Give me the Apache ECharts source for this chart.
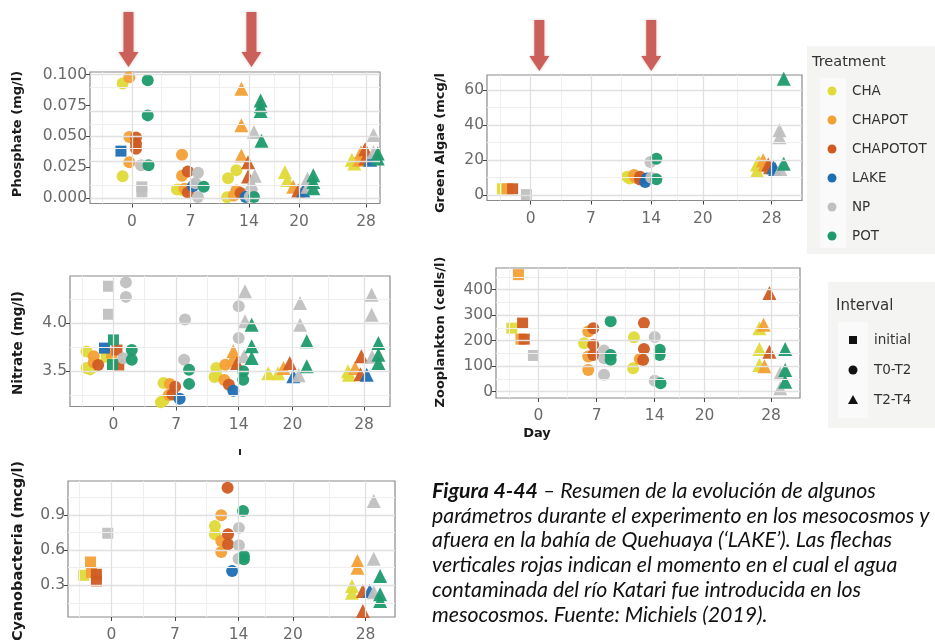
<!DOCTYPE html>
<html><head><meta charset="utf-8">
<script src="https://cdn.jsdelivr.net/npm/echarts@6/dist/echarts.min.js"></script>
<style>html,body{margin:0;padding:0;background:#fff;}#c{width:935px;height:640px;}</style>
</head><body><div id="c"></div>
<script>
// ---------------- DATA ----------------
const treatments = ['CHA', 'CHAPOT', 'CHAPOTOT', 'LAKE', 'NP', 'POT'];
const intervals = ['initial', 'T0-T2', 'T2-T4'];
const dayTicks = [0, 7, 14, 20, 28];
const dayMinor = [-3.5, 3.5, 10.5, 17, 24];

const phosphateTicks = [0, 0.025, 0.05, 0.075, 0.1];
const phosphateMinor = [0.0125, 0.0375, 0.0625, 0.0875];
const algaeTicks = [0, 20, 40, 60];
const algaeMinor = [10, 30, 50];
const nitrateTicks = [3.5, 4.0];
const nitrateMinor = [3.25, 3.75, 4.25];
const zooTicks = [0, 100, 200, 300, 400];
const zooMinor = [50, 150, 250, 350, 450];
const cyanoTicks = [0.3, 0.6, 0.9];
const cyanoMinor = [0.15, 0.45, 0.75, 1.05];

// rows: [treatment, interval, day (dodged), value]
const phosphate = [
  ['CHA','T0-T2',-1.1,0.0928],['CHAPOT','T0-T2',-0.3,0.098],['POT','T0-T2',1.9,0.0955],['POT','T0-T2',1.9,0.067],
  ['CHAPOT','T0-T2',-0.3,0.0495],['CHAPOTOT','T0-T2',0.5,0.049],['CHAPOTOT','T0-T2',0.5,0.044],['CHAPOTOT','T0-T2',0.5,0.040],
  ['LAKE','initial',-1.3,0.038],['CHAPOT','T0-T2',-0.3,0.029],['NP','T0-T2',1.1,0.0265],['POT','T0-T2',2.0,0.0265],
  ['CHA','T0-T2',-1.1,0.0176],['NP','initial',1.2,0.009],['NP','initial',1.2,0.005],
  ['CHAPOT','T0-T2',6.0,0.035],['CHAPOT','T0-T2',6.0,0.018],['CHAPOTOT','T0-T2',6.7,0.0215],['NP','T0-T2',7.9,0.0205],
  ['CHA','T0-T2',5.4,0.0068],['CHA','T0-T2',6.0,0.0065],['CHAPOT','T0-T2',6.3,0.0075],['CHAPOTOT','T0-T2',6.7,0.0045],
  ['LAKE','T0-T2',7.3,0.0095],['NP','T0-T2',7.6,0.012],['POT','T0-T2',8.6,0.009],['NP','T0-T2',7.9,0.0008],
  ['CHAPOT','T2-T4',13.1,0.0887],['POT','T2-T4',15.4,0.079],['POT','T2-T4',15.4,0.0745],['POT','T2-T4',15.4,0.0705],
  ['CHAPOT','T2-T4',13.1,0.059],['NP','T2-T4',14.6,0.0535],['POT','T2-T4',15.5,0.0465],['CHAPOT','T2-T4',13.1,0.0345],
  ['CHAPOTOT','T2-T4',13.9,0.029],['CHA','T0-T2',12.5,0.0225],['CHA','T0-T2',11.5,0.016],['CHAPOTOT','T2-T4',13.9,0.0175],
  ['NP','T2-T4',14.7,0.018],['NP','T2-T4',14.3,0.012],['NP','T2-T4',14.4,0.008],['CHAPOT','T0-T2',12.5,0.006],
  ['CHAPOTOT','T0-T2',13.0,0.004],['CHA','T0-T2',11.4,0.0005],['CHAPOT','T0-T2',12.2,0.002],['LAKE','T0-T2',13.6,0.0008],
  ['POT','T0-T2',14.6,0.0008],['NP','T0-T2',14.1,0.001],
  ['CHA','T2-T4',18.3,0.021],['CHA','T2-T4',18.6,0.0145],['CHAPOT','T2-T4',19.3,0.009],['CHAPOTOT','T2-T4',19.9,0.006],
  ['LAKE','T2-T4',20.5,0.006],['NP','T2-T4',21.0,0.0155],['NP','T2-T4',21.0,0.009],['POT','T2-T4',21.7,0.0185],
  ['POT','T2-T4',21.7,0.013],['POT','T2-T4',21.7,0.0078],
  ['CHA','T2-T4',26.3,0.031],['CHA','T2-T4',26.6,0.028],['CHAPOT','T2-T4',27.4,0.037],['CHAPOT','T2-T4',27.2,0.031],
  ['CHAPOTOT','T2-T4',27.9,0.0395],['CHAPOTOT','T2-T4',27.9,0.032],['LAKE','T2-T4',28.5,0.031],['NP','T2-T4',28.9,0.051],
  ['NP','T2-T4',28.9,0.037],['POT','T2-T4',29.4,0.036],['POT','T2-T4',29.4,0.032]
];

const greenAlgae = [
  ['CHA','initial',-3.3,3.7],['CHAPOT','initial',-2.7,3.7],['CHAPOTOT','initial',-2.1,3.7],['NP','initial',-0.5,0.4],
  ['CHA','T0-T2',11.2,10.5],['CHA','T0-T2',11.5,9.5],['CHAPOT','T0-T2',12.0,11.5],['CHAPOT','T0-T2',12.2,10.0],
  ['CHAPOTOT','T0-T2',12.7,9.0],['CHAPOTOT','T0-T2',12.7,10.5],['LAKE','T0-T2',13.3,7.5],['LAKE','T0-T2',13.5,9.5],
  ['NP','T0-T2',13.9,18.9],['NP','T0-T2',14.0,10.0],['POT','T0-T2',14.6,20.8],['POT','T0-T2',14.6,9.1],
  ['CHA','T2-T4',26.3,14.0],['CHA','T2-T4',26.3,17.5],['CHA','T2-T4',26.5,19.0],['CHAPOT','T2-T4',27.0,19.9],
  ['CHAPOT','T2-T4',27.2,17.5],['CHAPOTOT','T2-T4',27.6,17.5],['CHAPOTOT','T2-T4',27.8,16.0],['LAKE','T2-T4',28.2,16.0],
  ['LAKE','T2-T4',28.4,15.0],['NP','T2-T4',28.9,37.0],['NP','T2-T4',28.9,33.0],['NP','T2-T4',29.0,15.0],
  ['POT','T2-T4',29.4,18.0],['POT','T2-T4',29.4,66.3]
];

const nitrate = [
  ['NP','initial',-0.55,4.38],['NP','initial',-0.55,4.09],['NP','T0-T2',1.4,4.42],['NP','T0-T2',1.4,4.27],
  ['CHA','T0-T2',-3.0,3.705],['CHA','T0-T2',-3.0,3.535],['CHA','T0-T2',-2.6,3.52],['CHAPOT','T0-T2',-2.2,3.655],
  ['CHAPOT','T0-T2',-2.2,3.59],['CHAPOTOT','T0-T2',-1.7,3.565],['LAKE','initial',-1.0,3.74],['CHA','initial',-0.8,3.645],
  ['CHAPOT','initial',-0.2,3.69],['POT','initial',0.0,3.825],['CHAPOTOT','initial',0.4,3.72],['POT','initial',-0.1,3.57],
  ['CHAPOTOT','initial',0.6,3.565],['NP','T0-T2',1.1,3.635],['POT','T0-T2',2.05,3.72],['POT','T0-T2',2.05,3.62],
  ['NP','T0-T2',8.0,4.035],['NP','T0-T2',7.9,3.62],['POT','T0-T2',8.45,3.515],['POT','T0-T2',8.45,3.37],
  ['CHA','T0-T2',5.6,3.38],['CHA','T0-T2',5.6,3.2],['CHAPOT','T0-T2',6.3,3.37],['CHAPOT','T0-T2',6.2,3.255],
  ['CHAPOTOT','T0-T2',6.9,3.34],['CHAPOTOT','T0-T2',6.6,3.26],['LAKE','T0-T2',7.4,3.217],['CHA','T0-T2',5.3,3.18],
  ['NP','T2-T4',14.7,4.327],['NP','T0-T2',14.0,4.172],['NP','T2-T4',14.7,4.017],['POT','T2-T4',15.45,3.982],
  ['NP','T0-T2',14.0,3.844],['POT','T2-T4',15.45,3.758],['CHAPOT','T2-T4',13.4,3.707],['NP','T2-T4',14.6,3.655],
  ['POT','T2-T4',15.45,3.638],['CHAPOTOT','T2-T4',13.8,3.586],['CHAPOT','T2-T4',13.3,3.62],['CHA','T0-T2',11.5,3.534],
  ['CHA','T0-T2',11.5,3.465],['CHA','T0-T2',11.3,3.44],['CHAPOT','T0-T2',12.5,3.568],['CHAPOT','T0-T2',12.4,3.41],
  ['CHAPOTOT','T0-T2',12.9,3.36],['POT','T0-T2',14.5,3.50],['POT','T0-T2',14.5,3.413],['LAKE','T0-T2',13.4,3.30],
  ['NP','T2-T4',20.85,4.206],['NP','T2-T4',20.85,3.982],['POT','T2-T4',21.6,3.81],['POT','T2-T4',21.6,3.552],
  ['CHAPOTOT','T2-T4',19.7,3.586],['CHA','T2-T4',17.3,3.48],['CHA','T2-T4',18.4,3.48],['CHAPOT','T2-T4',19.0,3.534],
  ['LAKE','T2-T4',20.1,3.448],['NP','T2-T4',20.7,3.46],
  ['NP','T2-T4',28.85,4.292],['NP','T2-T4',28.85,4.085],['POT','T2-T4',29.6,3.793],['POT','T2-T4',29.6,3.672],
  ['POT','T2-T4',29.6,3.586],['CHAPOTOT','T2-T4',27.7,3.655],['NP','T2-T4',28.9,3.65],['CHA','T2-T4',26.3,3.465],
  ['CHA','T2-T4',26.2,3.50],['CHAPOT','T2-T4',27.0,3.534],['CHAPOTOT','T2-T4',27.6,3.47],['LAKE','T2-T4',28.3,3.465]
];

const zooplankton = [
  ['CHAPOT','initial',-2.4,459],['CHA','initial',-3.2,249],['CHAPOTOT','initial',-1.9,269],['CHAPOT','initial',-2.1,206],
  ['CHAPOTOT','initial',-1.7,206],['NP','initial',-0.6,142],
  ['CHA','T0-T2',5.5,190],['CHAPOT','T0-T2',6.0,236],['CHAPOTOT','T0-T2',6.6,249],['CHAPOTOT','T0-T2',6.6,184],
  ['CHAPOT','T0-T2',6.0,138],['CHAPOTOT','T0-T2',6.6,144],['CHAPOT','T0-T2',6.0,85],['NP','T0-T2',7.9,161],
  ['NP','T0-T2',7.9,131],['POT','T0-T2',8.7,276],['POT','T0-T2',8.7,144],['POT','T0-T2',8.7,125],['NP','T0-T2',7.9,66],
  ['CHAPOTOT','T0-T2',12.7,269],['CHA','T0-T2',11.5,213],['NP','T0-T2',14.0,214],['CHAPOTOT','T0-T2',12.7,167],
  ['POT','T0-T2',14.6,164],['POT','T0-T2',14.6,144],['CHAPOT','T0-T2',12.2,128],['CHAPOTOT','T0-T2',12.6,124],
  ['CHA','T0-T2',11.4,92],['NP','T0-T2',14.0,43],['POT','T0-T2',14.7,33],
  ['CHAPOTOT','T2-T4',27.8,387],['CHA','T2-T4',26.6,249],['CHAPOT','T2-T4',27.1,262],['CHA','T2-T4',26.6,167],
  ['CHAPOTOT','T2-T4',27.8,157],['POT','T2-T4',29.7,167],['CHA','T2-T4',26.6,105],['CHAPOT','T2-T4',27.2,100],
  ['NP','T2-T4',29.1,72],['POT','T2-T4',29.7,85],['POT','T2-T4',29.7,39],['NP','T2-T4',29.1,13]
];

const cyanobacteria = [
  ['NP','initial',-0.4,0.744],['CHAPOT','initial',-2.3,0.499],['CHA','initial',-3.05,0.385],['CHAPOT','initial',-2.2,0.41],
  ['CHAPOTOT','initial',-1.65,0.394],['CHAPOTOT','initial',-1.65,0.337],
  ['CHAPOTOT','T0-T2',12.8,1.133],['CHAPOT','T0-T2',12.1,0.897],['POT','T0-T2',14.5,0.934],['CHA','T0-T2',11.4,0.806],
  ['CHA','T0-T2',11.4,0.735],['NP','T0-T2',14.05,0.79],['CHAPOTOT','T0-T2',12.85,0.735],['CHAPOT','T0-T2',12.1,0.678],
  ['CHAPOTOT','T0-T2',12.85,0.65],['NP','T0-T2',14.05,0.641],['CHAPOT','T0-T2',12.1,0.584],['NP','T0-T2',14.0,0.527],
  ['POT','T0-T2',14.6,0.55],['POT','T0-T2',14.6,0.522],['LAKE','T0-T2',13.3,0.422],
  ['NP','T2-T4',28.9,1.019],['CHAPOT','T2-T4',27.1,0.507],['CHAPOT','T2-T4',27.1,0.45],['NP','T2-T4',28.9,0.527],
  ['POT','T2-T4',29.6,0.38],['CHA','T2-T4',26.5,0.294],['CHA','T2-T4',26.5,0.237],['CHAPOTOT','T2-T4',27.7,0.251],
  ['LAKE','T2-T4',28.45,0.251],['NP','T2-T4',28.9,0.24],['POT','T2-T4',29.6,0.223],['POT','T2-T4',29.6,0.166],
  ['CHAPOTOT','T2-T4',27.7,0.081]
];

const arrowDaysPhosphate = [-0.4, 14.3];
const arrowDaysAlgae = [1.0, 14.0];

const captionBold = 'Figura 4-44';
const captionLines = [
  ' \u2013 Resumen de la evoluci\u00f3n de algunos',
  'par\u00e1metros durante el experimento en los mesocosmos y',
  'afuera en la bah\u00eda de Quehuaya (\u2018LAKE\u2019). Las flechas',
  'verticales rojas indican el momento en el cual el agua',
  'contaminada del r\u00edo Katari fue introducida en los',
  'mesocosmos. Fuente: Michiels (2019).'
];

// ---------------- STYLE / LAYOUT ----------------
const colors = {CHA:'#e0da3a', CHAPOT:'#f3a036', CHAPOTOT:'#d05b22', LAKE:'#1f6eb3', NP:'#c0c0c0', POT:'#1e9a6d'};
const shapes = {'initial':'rect', 'T0-T2':'circle', 'T2-T4':'triangle'};
const sizes = {'initial':11, 'T0-T2':12, 'T2-T4':14};

const panels = [
  {data: phosphate, title:'Phosphate (mg/l)', box:[90,72,290,131.5], x:[-5.0,29.67], y:[-0.0045,0.1022], ticks:phosphateTicks, minor:phosphateMinor, dec:3, tx:18, ty:134, tfs:13},
  {data: greenAlgae, title:'Green Algae (mcg/l', box:[487,75,315,125.5], x:[-5.08,31.52], y:[-2.95,68.4], ticks:algaeTicks, minor:algaeMinor, dec:0, tx:441, ty:143, tfs:13},
  {data: nitrate, title:'Nitrate (mg/l)', box:[70,276,320,130.5], x:[-4.85,30.9], y:[3.136,4.486], ticks:nitrateTicks, minor:nitrateMinor, dec:1, tx:18, ty:343, tfs:13.5},
  {data: zooplankton, title:'Zooplankton (cells/l)', box:[496,268,304,130], x:[-5.1,31.48], y:[-24.8,485], ticks:zooTicks, minor:zooMinor, dec:0, tx:441, ty:332, tfs:13},
  {data: cyanobacteria, title:'Cyanobacteria (mcg/l)', box:[68,481,327,136], x:[-4.78,31.24], y:[0.0295,1.19], ticks:cyanoTicks, minor:cyanoMinor, dec:1, tx:18, ty:551, tfs:14.5}
];

const TICKFONT = 'DejaVu Sans';
const grids = [], xAxes = [], yAxes = [], series = [], graphics = [];

panels.forEach((p, i) => {
  grids.push({left:p.box[0], top:p.box[1], width:p.box[2], height:p.box[3], show:true,
    backgroundColor:'#ffffff', borderColor:'#8a8a8a', borderWidth:1.2, containLabel:false, outerBoundsMode:'none'});
  xAxes.push({gridIndex:i, type:'value', min:p.x[0], max:p.x[1], position:'bottom',
    axisLine:{show:false, onZero:false}, splitLine:{show:false},
    axisTick:{show:true, length:4, lineStyle:{color:'#444', width:1}, customValues:dayTicks},
    axisLabel:{show:true, customValues:dayTicks, color:'#6a6a6a', fontSize:15.5, fontFamily:TICKFONT, margin:10}});
  yAxes.push({gridIndex:i, type:'value', min:p.y[0], max:p.y[1], position:'left',
    axisLine:{show:false, onZero:false}, splitLine:{show:false},
    axisTick:{show:true, length:4, lineStyle:{color:'#444', width:1}, customValues:p.ticks},
    axisLabel:{show:true, customValues:p.ticks, color:'#6a6a6a', fontSize:15.5, fontFamily:TICKFONT, margin:3,
      formatter: v => Number(v).toFixed(p.dec)}});
  const ml = [];
  dayMinor.forEach(v => ml.push({xAxis:v, lineStyle:{color:'#eeeeee', width:1, type:'solid'}}));
  p.minor.forEach(v => ml.push({yAxis:v, lineStyle:{color:'#eeeeee', width:1, type:'solid'}}));
  dayTicks.forEach(v => ml.push({xAxis:v, lineStyle:{color:'#e0e0e0', width:1.3, type:'solid'}}));
  p.ticks.forEach(v => ml.push({yAxis:v, lineStyle:{color:'#e0e0e0', width:1.3, type:'solid'}}));
  series.push({type:'line', xAxisIndex:i, yAxisIndex:i, data:[], z:1, silent:true, showSymbol:false,
    markLine:{silent:true, symbol:['none','none'], symbolSize:0, label:{show:false}, emphasis:{disabled:true}, animation:false, data:ml}});
  treatments.forEach(t => {
    intervals.forEach(k => {
      const rows = p.data.filter(r => r[0] === t && r[1] === k);
      if (!rows.length) return;
      series.push({type:'scatter', name:t + ' ' + k, xAxisIndex:i, yAxisIndex:i, z:3, silent:true,
        symbol:shapes[k], symbolSize:sizes[k],
        itemStyle:{color:colors[t], opacity:0.95},
        data: rows.map(r => [r[2], r[3]])});
    });
  });
  graphics.push({type:'text', x:p.tx, y:p.ty, rotation:Math.PI/2,
    style:{text:p.title, font:'bold ' + p.tfs + 'px "DejaVu Sans"', fill:'#1a1a1a', align:'center', verticalAlign:'middle'}});
});

// x-axis title
graphics.push({type:'text', x:537, y:434, style:{text:'Day', font:'bold 13px "DejaVu Sans"', fill:'#1a1a1a', align:'center', verticalAlign:'middle'}});
graphics.push({type:'rect', shape:{x:239, y:449, width:2, height:6}, style:{fill:'#222'}});

// Treatment legend
graphics.push({type:'rect', shape:{x:807, y:46, width:128, height:208}, style:{fill:'#f4f4f2'}});
graphics.push({type:'rect', shape:{x:820, y:78, width:26, height:170}, style:{fill:'#fafafa'}});
graphics.push({type:'text', x:812, y:62, style:{text:'Treatment', font:'14.5px "DejaVu Sans"', fill:'#333', align:'left', verticalAlign:'middle'}});
treatments.forEach((t, j) => {
  const yy = 91 + j * 29;
  graphics.push({type:'circle', shape:{cx:832, cy:yy, r:4.5}, style:{fill:colors[t]}});
  graphics.push({type:'text', x:852, y:yy, style:{text:t, font:'13.5px "DejaVu Sans"', fill:'#333', align:'left', verticalAlign:'middle'}});
});

// Interval legend
graphics.push({type:'rect', shape:{x:828, y:282, width:107, height:146}, style:{fill:'#f4f4f2'}});
graphics.push({type:'rect', shape:{x:838, y:322, width:30, height:96}, style:{fill:'#fafafa'}});
graphics.push({type:'text', x:836, y:306, style:{text:'Interval', font:'15px "DejaVu Sans"', fill:'#333', align:'left', verticalAlign:'middle'}});
intervals.forEach((k, j) => {
  const yy = 340 + j * 30;
  let shape;
  if (k === 'initial') shape = {type:'rect', shape:{x:849, y:yy-4, width:8, height:8}, style:{fill:'#111'}};
  else if (k === 'T0-T2') shape = {type:'circle', shape:{cx:853, cy:yy, r:4.5}, style:{fill:'#111'}};
  else shape = {type:'polygon', shape:{points:[[853,yy-5],[858,yy+4],[848,yy+4]]}, style:{fill:'#111'}};
  graphics.push(shape);
  graphics.push({type:'text', x:874, y:yy, style:{text:k, font:'13.5px "DejaVu Sans"', fill:'#333', align:'left', verticalAlign:'middle'}});
});

// Caption
const CAPFONT = '"Lato"';
const CAPSIZE = '21.3px ';
captionLines.forEach((line, j) => {
  const yy = 491 + j * 24.8;
  if (j === 0) {
    graphics.push({type:'text', x:432, y:yy, style:{
      text:'{b|' + captionBold + '}{n|' + line + '}',
      rich:{b:{font:'italic bold ' + CAPSIZE + CAPFONT, fill:'#111'}, n:{font:'italic ' + CAPSIZE + CAPFONT, fill:'#111'}},
      verticalAlign:'middle', align:'left'}});
  } else {
    graphics.push({type:'text', x:432, y:yy, style:{text:line, font:'italic ' + CAPSIZE + CAPFONT, fill:'#111', align:'left', verticalAlign:'middle'}});
  }
});

const chart = echarts.init(document.getElementById('c'), null, {renderer:'canvas'});
chart.setOption({animation:false, backgroundColor:'#ffffff', grid:grids, xAxis:xAxes, yAxis:yAxes, series:series, graphic:graphics});

// Arrows positioned through the axis scales
function arrow(x, top, hs, tip) {
  return {type:'polygon', z:10, shape:{points:[[x-5,top],[x+5,top],[x+5,hs],[x+10,hs],[x,tip],[x-10,hs],[x-5,hs]]},
    style:{fill:'#cb605b', shadowBlur:3, shadowColor:'rgba(150,60,50,0.35)'}};
}
const arrows = [];
arrowDaysPhosphate.forEach(d => { const x = chart.convertToPixel({xAxisIndex:0}, d); arrows.push(arrow(x, 12, 52, 67)); });
arrowDaysAlgae.forEach(d => { const x = chart.convertToPixel({xAxisIndex:1}, d); arrows.push(arrow(x, 20, 56, 71)); });
chart.setOption({graphic: graphics.concat(arrows)});
</script>
</body></html>
